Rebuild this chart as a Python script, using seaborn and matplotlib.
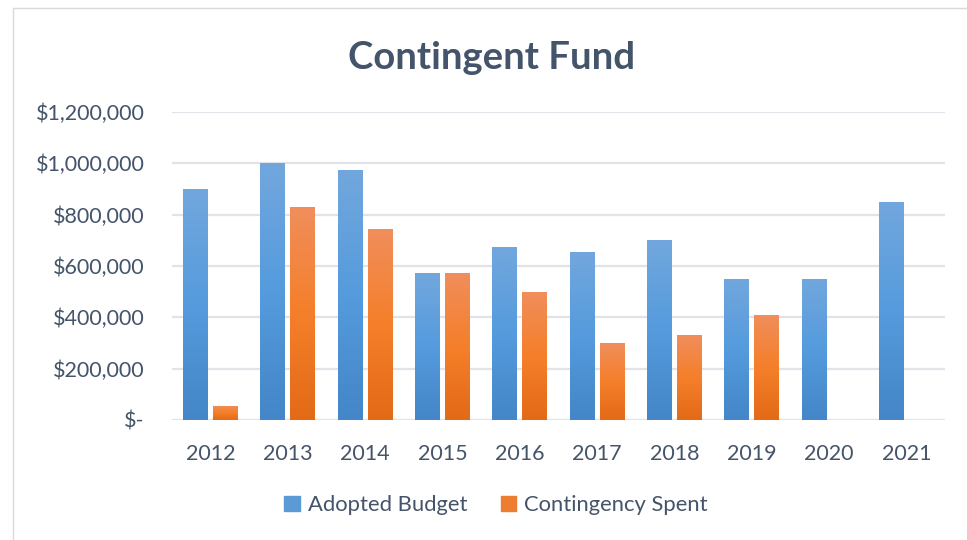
import numpy as np
import pandas as pd
import matplotlib
matplotlib.use("Agg")
import matplotlib.pyplot as plt
import seaborn as sns
from matplotlib.colors import LinearSegmentedColormap
from matplotlib.patches import Rectangle
from matplotlib.ticker import FuncFormatter

years = ["2012", "2013", "2014", "2015", "2016", "2017", "2018", "2019", "2020", "2021"]
adopted_budget = [900000, 1000000, 975000, 572000, 675000, 655000, 700000, 550000, 550000, 850000]
contingency_spent = [55000, 830000, 745000, 572000, 500000, 300000, 330000, 410000, 0, 0]
series_names = ["Adopted Budget", "Contingency Spent"]
y_ticks = [0, 200000, 400000, 600000, 800000, 1000000, 1200000]

df = pd.DataFrame({
    "Year": years * 2,
    "Value": adopted_budget + contingency_spent,
    "Series": [series_names[0]] * len(years) + [series_names[1]] * len(years),
})

sns.set_theme(style="white")
plt.rcParams["font.family"] = ["Lato", "DejaVu Sans"]
text_color = "#44546A"

fig = plt.figure(figsize=(9.67, 5.4), dpi=100)
ax = fig.add_axes([172 / 967, 1 - 420 / 540, (945 - 172) / 967, (420 - 112) / 540])

mid_colors = {series_names[0]: "#5B9BD5", series_names[1]: "#ED7D31"}
sns.barplot(data=df, x="Year", y="Value", hue="Series", palette=mid_colors,
            width=0.776, gap=0.167, ax=ax, legend=False, saturation=1, zorder=3)

grads = {
    0: LinearSegmentedColormap.from_list("b", ["#4486C7", "#559BDD", "#72A7DD"]),
    1: LinearSegmentedColormap.from_list("o", ["#E36A17", "#F57F2A", "#F08E5C"]),
}
grad_img = np.linspace(0, 1, 256).reshape(-1, 1)
n = len(years)
for i, p in enumerate(list(ax.patches)[: 2 * n]):
    h = p.get_height()
    if h <= 0:
        continue
    s = i // n
    x0, w = p.get_x(), p.get_width()
    p.set_alpha(0)
    im = ax.imshow(grad_img, cmap=grads[s], aspect="auto", origin="lower",
                   extent=[x0, x0 + w, 0, h], zorder=3, interpolation="bilinear")
    clip = Rectangle((x0, 0), w, h, transform=ax.transData)
    im.set_clip_path(clip)

ax.set_xlim(-0.5, 9.5)
ax.set_ylim(0, 1200000)
ax.set_yticks(y_ticks)
ax.yaxis.set_major_formatter(FuncFormatter(lambda v, _: "$-" if v == 0 else f"${v:,.0f}"))
ax.grid(axis="y", color="#E1E3E8", linewidth=1.6, zorder=0)
ax.grid(axis="x", visible=False)
for sp in ax.spines.values():
    sp.set_visible(False)
ax.set_xlabel("")
ax.set_ylabel("")
ax.tick_params(axis="both", length=0, labelsize=15.5, labelcolor=text_color)
ax.tick_params(axis="y", pad=19.5)
ax.tick_params(axis="x", pad=17)

fig.text(0.508, 0.892, "Contingent Fund", ha="center", va="center",
         fontsize=27.5, fontweight="bold", color=text_color)

handles = [Rectangle((0, 0), 1, 1, color=mid_colors[s]) for s in series_names]
fig.legend(handles, series_names, loc="center", bbox_to_anchor=(0.513, 0.064),
           ncol=2, frameon=False, fontsize=15.8, labelcolor=text_color,
           handlelength=0.7, handleheight=0.7, handletextpad=0.35, columnspacing=1.55)

# outer frame
fig.add_artist(Rectangle((13 / 967, -0.01), 1.0, 1 - 8 / 540 + 0.01, transform=fig.transFigure,
                         fill=False, edgecolor="#D9D9D9", linewidth=1))

fig.savefig("out.png", dpi=100)
